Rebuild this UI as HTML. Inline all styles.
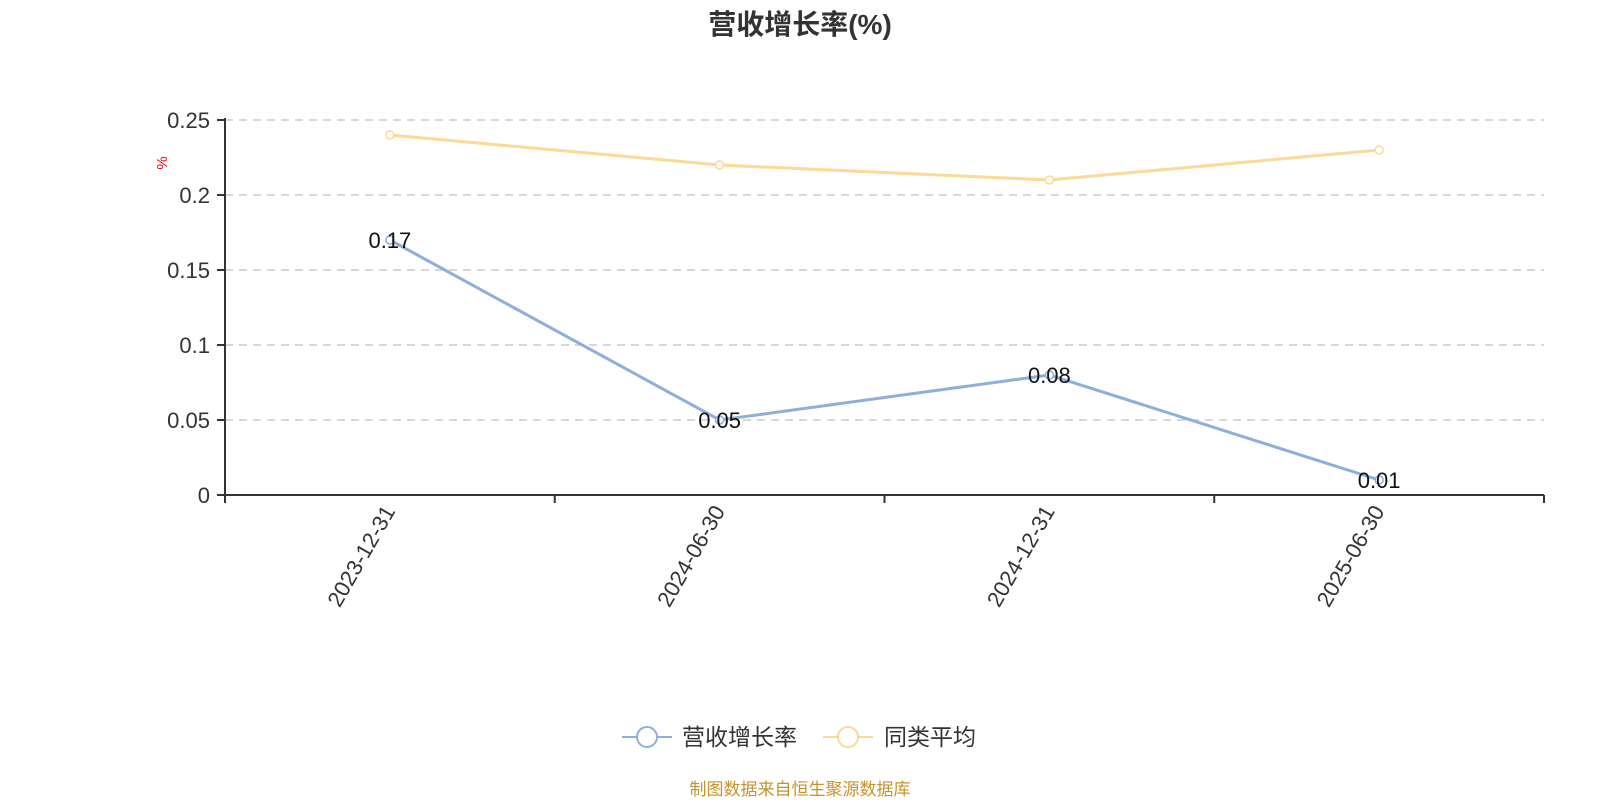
<!DOCTYPE html>
<html><head><meta charset="utf-8"><style>
body{margin:0;background:#fff;width:1600px;height:800px;overflow:hidden}
svg text{font-family:"Liberation Sans","Noto Sans CJK SC",sans-serif}
</style></head><body>
<svg width="1600" height="800">
<text x="800" y="34" text-anchor="middle" font-size="28" font-weight="bold" fill="#333">营收增长率(%)</text>
<text transform="translate(167,163) rotate(-90)" text-anchor="middle" font-size="15" fill="red">%</text>
<g id="grid"></g><g id="axes"></g><g id="series"></g>
<g>
<g>
<line x1="622" y1="737" x2="672" y2="737" stroke="#8eaedb" stroke-width="2"/>
<circle cx="647" cy="737" r="10" fill="#fff" stroke="#8eaedb" stroke-width="2"/>
<text x="682" y="745" font-size="23" fill="#333">营收增长率</text></g>
<g>
<line x1="823" y1="737" x2="873" y2="737" stroke="#fcd995" stroke-width="2"/>
<circle cx="848" cy="737" r="10" fill="#fff" stroke="#fcd995" stroke-width="2"/>
<text x="884" y="745" font-size="23" fill="#333">同类平均</text></g>
</g>
<text x="800" y="795" text-anchor="middle" font-size="17" fill="#c8922a">制图数据来自恒生聚源数据库</text>
</svg>
<script>
const categories=["2023-12-31","2024-06-30","2024-12-31","2025-06-30"];
const growth=[0.17,0.05,0.08,0.01];
const peerAvg=[0.24,0.22,0.21,0.23];
const yTicks=[0,0.05,0.1,0.15,0.2,0.25];
const yTickLabels=["0","0.05","0.1","0.15","0.2","0.25"];
const NS="http://www.w3.org/2000/svg";
const X0=225,X1=1544,Y0=495,Y1=120,YMAX=0.25;
const band=(X1-X0)/categories.length;
const xs=i=>X0+band*(i+0.5);
const ys=v=>Y0-(v/YMAX)*(Y0-Y1);
function mk(p,t,a){const e=document.createElementNS(NS,t);for(const k in a)e.setAttribute(k,a[k]);p.appendChild(e);return e;}
const grid=document.getElementById('grid'),axes=document.getElementById('axes'),ser=document.getElementById('series');
yTicks.forEach((v,i)=>{
 if(v>0){const g=mk(grid,'line',{x1:X0,x2:X1,y1:ys(v),y2:ys(v),stroke:'#ccc','stroke-dasharray':'8,6','stroke-width':1.5});
 
 }
 const t=mk(axes,'line',{x1:X0-8,x2:X0,y1:ys(v),y2:ys(v),stroke:'#333','stroke-width':2});
 
 
 const l=mk(axes,'text',{x:X0-15,y:ys(v)+8,'text-anchor':'end','font-size':22,fill:'#333'});l.textContent=yTickLabels[i];
 
 
});
const ya=mk(axes,'line',{x1:X0,x2:X0,y1:Y1-2,y2:Y0,stroke:'#333','stroke-width':2});


const xa=mk(axes,'line',{x1:X0,x2:X1,y1:Y0,y2:Y0,stroke:'#333','stroke-width':2});


for(let i=0;i<=categories.length;i++){const t=mk(axes,'line',{x1:X0+band*i,x2:X0+band*i,y1:Y0,y2:Y0+8,stroke:'#333','stroke-width':2});
 
 }
categories.forEach((c,i)=>{const t=mk(axes,'text',{transform:`translate(${xs(i)+6},${Y0+16}) rotate(-60)`,'text-anchor':'end','font-size':22,fill:'#333'});t.textContent=c;
 
 });
function series(vals,color,name,labels){
 const p=mk(ser,'polyline',{points:vals.map((v,i)=>xs(i)+','+ys(v)).join(' '),fill:'none',stroke:color,'stroke-width':3});
 
 
 vals.forEach((v,i)=>{const c=mk(ser,'circle',{cx:xs(i),cy:ys(v),r:4,fill:'#fff',stroke:color,'stroke-width':1.5});
  
  
  if(labels){const t=mk(ser,'text',{x:xs(i),y:ys(v)+8,'text-anchor':'middle','font-size':22,fill:'#111'});t.textContent=String(v);
  
  }});
}
series(peerAvg,'#fcd995','peer-average',false);
series(growth,'#8eaedb','revenue-growth',true);
</script>
</body></html>
